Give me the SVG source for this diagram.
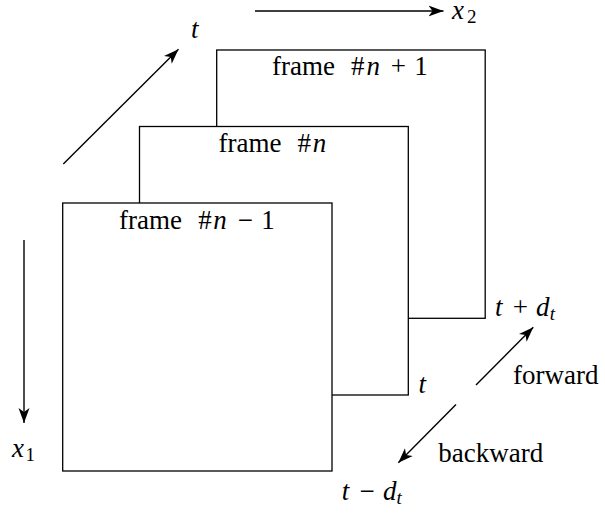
<svg xmlns="http://www.w3.org/2000/svg" width="605" height="515" viewBox="0 0 605 515">
<style>
  .frame { fill: #ffffff; stroke: #000000; stroke-width: 1.3; }
  .conn { stroke: #000000; stroke-width: 1.4; fill: none; marker-end: url(#arrow); }
  text { font-family: 'Liberation Serif', 'DejaVu Serif', 'Noto Serif', serif; font-size: 27px; fill: #000000; }
  .it { font-style: italic; }
  .sub { font-size: 19px; }
</style>
<defs>
  <marker id="arrow" markerUnits="userSpaceOnUse" markerWidth="20" markerHeight="14" refX="15" refY="6" orient="auto">
    <path d="M0,0.5 L15,6 L0,11.5 L4,6 Z" fill="#000000"/>
  </marker>
</defs>
<rect width="605" height="515" fill="#ffffff"/>

<g id="frame-n-plus-1">
  <rect class="frame" x="216.7" y="50" width="268.5" height="268.3"/>
  <text y="75"><tspan x="272">frame</tspan><tspan x="351">#</tspan><tspan x="366.5" class="it">n</tspan><tspan x="390.7">+</tspan><tspan x="414.2">1</tspan></text>
</g>
<g id="frame-n">
  <rect class="frame" x="139.5" y="126.5" width="268.8" height="268.5"/>
  <text y="151.5"><tspan x="218.5">frame</tspan><tspan x="297.5">#</tspan><tspan x="312.8" class="it">n</tspan></text>
</g>
<g id="frame-n-minus-1">
  <rect class="frame" x="62.7" y="203" width="269.3" height="268"/>
  <text y="228.5"><tspan x="119">frame</tspan><tspan x="198.3">#</tspan><tspan x="213.3" class="it">n</tspan><tspan x="237.7">−</tspan><tspan x="261.2">1</tspan></text>
</g>

<g id="connectors">
  <line class="conn" x1="255" y1="11" x2="443.5" y2="11"/>
  <line class="conn" x1="63.3" y1="164" x2="178.5" y2="49.3"/>
  <line class="conn" x1="24" y1="240" x2="24" y2="423"/>
  <line class="conn" x1="476" y1="385" x2="533.3" y2="327.3"/>
  <line class="conn" x1="456" y1="404.5" x2="398.3" y2="462.7"/>
</g>

<g id="labels">
  <text x="191" y="38" class="it">t</text>
  <text y="19"><tspan x="452" class="it">x</tspan><tspan x="467" y="22.5" class="sub">2</tspan></text>
  <text y="457"><tspan x="12" class="it">x</tspan><tspan x="25.5" y="461" class="sub">1</tspan></text>
  <text y="316"><tspan x="495" class="it">t</tspan><tspan x="512.7">+</tspan><tspan x="536" class="it">d</tspan><tspan x="549.7" y="320" class="sub it">t</tspan></text>
  <text x="418.5" y="393" class="it">t</text>
  <text x="513" y="384">forward</text>
  <text x="438.3" y="461.7">backward</text>
  <text y="500"><tspan x="341.7" class="it">t</tspan><tspan x="359.4">−</tspan><tspan x="383" class="it">d</tspan><tspan x="396.4" y="504" class="sub it">t</tspan></text>
</g>
</svg>
